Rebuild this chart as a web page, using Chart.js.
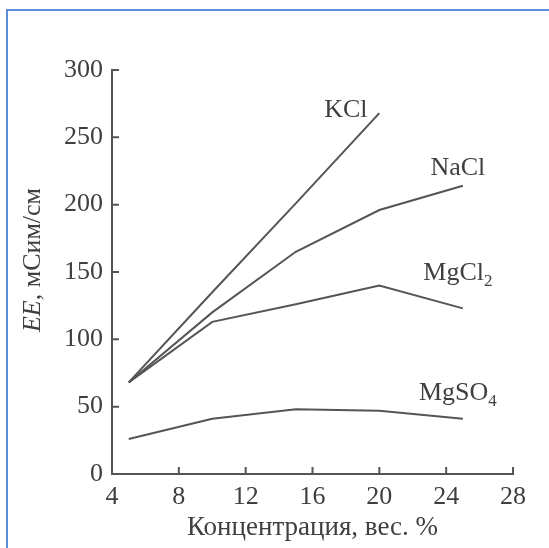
<!DOCTYPE html>
<html>
<head>
<meta charset="utf-8">
<script src="https://cdn.jsdelivr.net/npm/chart.js@4.4.1/dist/chart.umd.min.js"></script>
<style>
    body { margin: 0; background: #fff; }
    #wrap { position: relative; width: 549px; height: 548px; }
    #frame {
        position: absolute; left: 6px; top: 9px; right: 0; bottom: 0;
        border-top: 2px solid #5b8ed6; border-left: 2px solid #5b8ed6;
        pointer-events: none;
    }
</style>
</head>
<body>
<div id="wrap">
    <canvas id="eeChart"></canvas>
    <div id="frame"></div>
</div>
<script>
// concentration, wt. %
const concentration = [5, 10, 15, 20, 25];
// EE, mS/cm
const kclValues = [68, 135, 201, 268, null];
const naclValues = [68, 120, 165, 196, 214];
const mgcl2Values = [68, 113, 126, 140, 123];
const mgso4Values = [26, 41, 48, 47, 41];

const xTicks = [4, 8, 12, 16, 20, 24, 28];
const yTicks = [0, 50, 100, 150, 200, 250, 300];

// curve captions: text, subscript, anchor in data units
const captionText = ['KCl', 'NaCl', 'MgCl', 'MgSO'];
const captionSub = ['', '', '2', '4'];
const captionX = [18, 24.7, 24.7, 24.7];
const captionY = [270, 227, 149, 60];

const inkColor = '#3f3f3f';
const lineColor = '#555555';

function toPoints(values) {
    let pts = [];
    for (let i = 0; i < concentration.length; i++) {
        if (values[i] !== null) {
            pts.push({x: concentration[i], y: values[i]});
        }
    }
    return pts;
}

function makeSet(label, values) {
    return {
        label: label,
        data: toPoints(values),
        borderColor: lineColor,
        borderWidth: 2,
        pointRadius: 0,
        tension: 0,
        fill: false,
    };
}

const innerTicks = {
    id: 'innerTicks',
    afterDraw: function (chart) {
        let ctx = chart.ctx;
        let xs = chart.scales.x;
        let ys = chart.scales.y;
        let area = chart.chartArea;
        ctx.save();
        ctx.strokeStyle = lineColor;
        ctx.lineWidth = 2;
        ctx.beginPath();
        xTicks.forEach(function (v, i) {
            if (i === 0) return;
            let px = xs.getPixelForValue(v);
            ctx.moveTo(px, area.bottom);
            ctx.lineTo(px, area.bottom - 7);
        });
        yTicks.forEach(function (v, i) {
            if (i === 0) return;
            let py = ys.getPixelForValue(v);
            ctx.moveTo(area.left, py);
            ctx.lineTo(area.left + 7, py);
        });
        ctx.stroke();

        // captions
        ctx.fillStyle = inkColor;
        ctx.textBaseline = 'middle';
        ctx.textAlign = 'left';
        for (let i = 0; i < captionText.length; i++) {
            ctx.font = '26px "Liberation Serif"';
            let main = captionText[i];
            let sub = captionSub[i];
            let w = ctx.measureText(main).width;
            ctx.font = '17px "Liberation Serif"';
            let sw = sub ? ctx.measureText(sub).width : 0;
            let cx = xs.getPixelForValue(captionX[i]);
            let cy = ys.getPixelForValue(captionY[i]);
            let left = cx - (w + sw) / 2;
            ctx.font = '26px "Liberation Serif"';
            ctx.fillText(main, left, cy);
            if (sub) {
                ctx.font = '17px "Liberation Serif"';
                ctx.fillText(sub, left + w, cy + 8);
            }
        }

        // y axis title: italic EE, upright units
        let midY = (area.top + area.bottom) / 2 - 12;
        ctx.translate(33, midY);
        ctx.rotate(-Math.PI / 2);
        ctx.font = 'italic 26px "Liberation Serif"';
        let t1 = 'EE';
        let w1 = ctx.measureText(t1).width;
        ctx.font = '26px "Liberation Serif"';
        let t2 = ', мСим/см';
        let w2 = ctx.measureText(t2).width;
        let start = -(w1 + w2) / 2;
        ctx.font = 'italic 26px "Liberation Serif"';
        ctx.fillText(t1, start, 0);
        ctx.font = '26px "Liberation Serif"';
        ctx.fillText(t2, start + w1, 0);
        ctx.restore();
    }
};

Chart.defaults.font.family = '"Liberation Serif", serif';
Chart.defaults.color = inkColor;

const config = {
    type: 'line',
    data: {
        datasets: [
            makeSet('KCl', kclValues),
            makeSet('NaCl', naclValues),
            makeSet('MgCl2', mgcl2Values),
            makeSet('MgSO4', mgso4Values),
        ]
    },
    plugins: [innerTicks],
    options: {
        responsive: true,
        maintainAspectRatio: false,
        animation: false,
        layout: {
            padding: {left: 18, top: 70, right: 36, bottom: 4}
        },
        plugins: {
            legend: {display: false},
            tooltip: {enabled: false},
        },
        scales: {
            x: {
                type: 'linear',
                min: 4,
                max: 28,
                afterBuildTicks: function (scale) {
                    scale.ticks = xTicks.map(function (v) { return {value: v}; });
                },
                afterFit: function (scale) {
                    scale.height = 548 - 474 - 4;
                },
                grid: {display: false, drawTicks: false},
                border: {display: true, color: lineColor, width: 2},
                ticks: {
                    padding: 8,
                    maxRotation: 0,
                    font: {size: 26},
                    color: inkColor,
                },
                title: {
                    display: true,
                    text: 'Концентрация, вес. %',
                    font: {size: 27},
                    color: inkColor,
                    padding: {top: 0, bottom: 0},
                },
            },
            y: {
                min: 0,
                max: 300,
                afterBuildTicks: function (scale) {
                    scale.ticks = yTicks.map(function (v) { return {value: v}; });
                },
                afterFit: function (scale) {
                    scale.width = 112 - 18;
                },
                grid: {display: false, drawTicks: false},
                border: {display: true, color: lineColor, width: 2},
                ticks: {
                    padding: 9,
                    font: {size: 26},
                    color: inkColor,
                },
                title: {display: false},
            },
        }
    },
};

let ctx = document.getElementById('eeChart');
let myChart = new Chart(ctx, config);
</script>
</body>
</html>
